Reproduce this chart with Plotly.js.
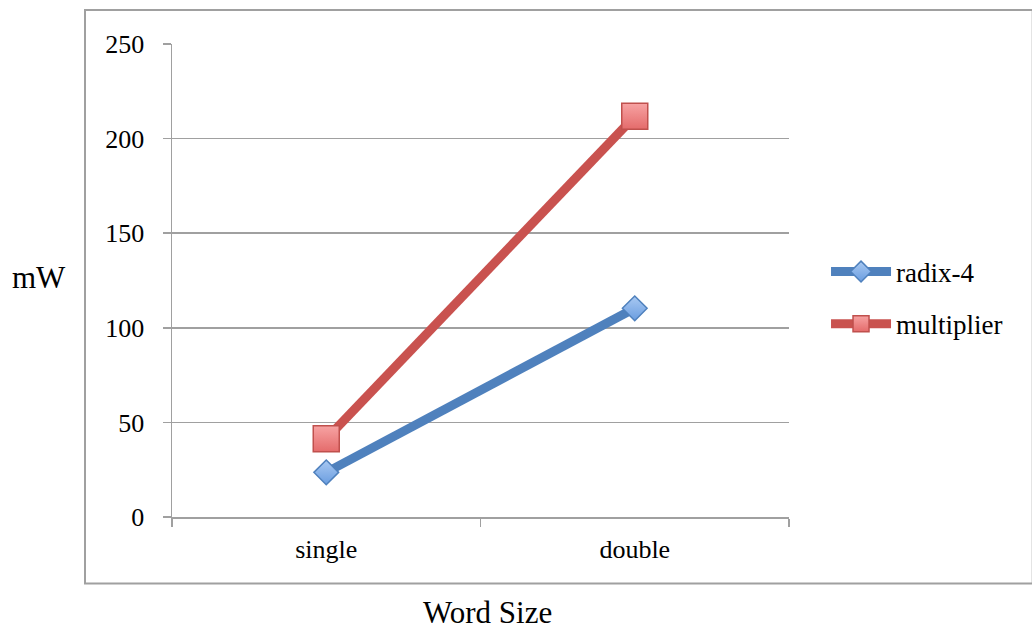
<!DOCTYPE html>
<html>
<head>
<meta charset="utf-8">
<script src="https://cdn.plot.ly/plotly-3.0.1.min.js"></script>
<style>
  html, body { margin: 0; padding: 0; background: #fff; }
  #chart { width: 1032px; height: 629px; }
</style>
</head>
<body>
<div id="chart"></div>
<script>
// Power draw by word size for the two multiplier designs
const wordSizes = ["single", "double"];
const radix4 = [23.6, 110.3];
const multiplier = [41.3, 211.8];
const yTicks = [0, 50, 100, 150, 200, 250];

const serif = "Liberation Serif, Times New Roman, serif";

const traces = [
  {
    x: wordSizes, y: radix4, name: "radix-4", type: "scatter", mode: "lines+markers",
    legendgroup: "a",
    line: { color: "#4f81bd", width: 9 },
    marker: {
      symbol: "diamond", size: 19, color: "#a9c9f2",
      gradient: { type: "vertical", color: "#6a9de0" },
      line: { color: "#4f81bd", width: 1.5 }
    }
  },
  {
    x: wordSizes, y: multiplier, name: "multiplier", type: "scatter", mode: "lines+markers",
    legendgroup: "b",
    line: { color: "#c9524f", width: 9 },
    marker: {
      symbol: "square", size: 26, color: "#f7a3a3",
      gradient: { type: "vertical", color: "#e46b6b" },
      line: { color: "#c0504d", width: 1.5 }
    }
  }
];

const layout = {
  width: 1032, height: 629,
  margin: { l: 172, r: 243, t: 44, b: 111.5 },
  paper_bgcolor: "#fff", plot_bgcolor: "#fff",
  font: { family: serif, size: 26, color: "#000" },
  showlegend: true,
  legend: {
    x: 1.06, y: 0.463, xanchor: "left", yanchor: "middle",
    font: { family: serif, size: 27, color: "#000" },
    tracegroupgap: 14, itemwidth: 60
  },
  xaxis: {
    type: "category", range: [-0.5, 1.5],
    showline: true, linecolor: "#a0a0a0", linewidth: 1.5,
    ticks: "outside", ticklen: 8, tickcolor: "#a0a0a0", tickwidth: 1.5,
    tickson: "boundaries", showgrid: false, zeroline: false,
    tickfont: { family: serif, size: 26, color: "#000" }, ticklabelstandoff: 8
  },
  yaxis: {
    range: [0, 250], tickvals: yTicks, ticktext: yTicks.map(String),
    showline: true, linecolor: "#a0a0a0", linewidth: 1.5,
    ticks: "outside", ticklen: 8, tickcolor: "#a0a0a0", tickwidth: 1.5,
    showgrid: true, gridcolor: "#a0a0a0", gridwidth: 1.5, zeroline: false,
    tickfont: { family: serif, size: 26, color: "#000" }, ticklabelstandoff: 13
  },
  annotations: [
    { text: "mW", xref: "paper", yref: "paper", x: -0.262, y: 0.507,
      xanchor: "left", yanchor: "middle", showarrow: false,
      font: { family: serif, size: 31, color: "#000" } },
    { text: "Word Size", xref: "paper", yref: "paper", x: 0.511, y: -0.2015,
      xanchor: "center", yanchor: "middle", showarrow: false,
      font: { family: serif, size: 31, color: "#000" } }
  ],
  shapes: [
    { type: "rect", xref: "paper", yref: "paper", x0: -0.141, x1: 1.395, y0: -0.1404, y1: 1.0718,
      line: { color: "#a0a0a0", width: 2 }, fillcolor: "rgba(0,0,0,0)", layer: "below" }
  ]
};

Plotly.newPlot("chart", traces, layout, { displayModeBar: false, staticPlot: true });
</script>
</body>
</html>
